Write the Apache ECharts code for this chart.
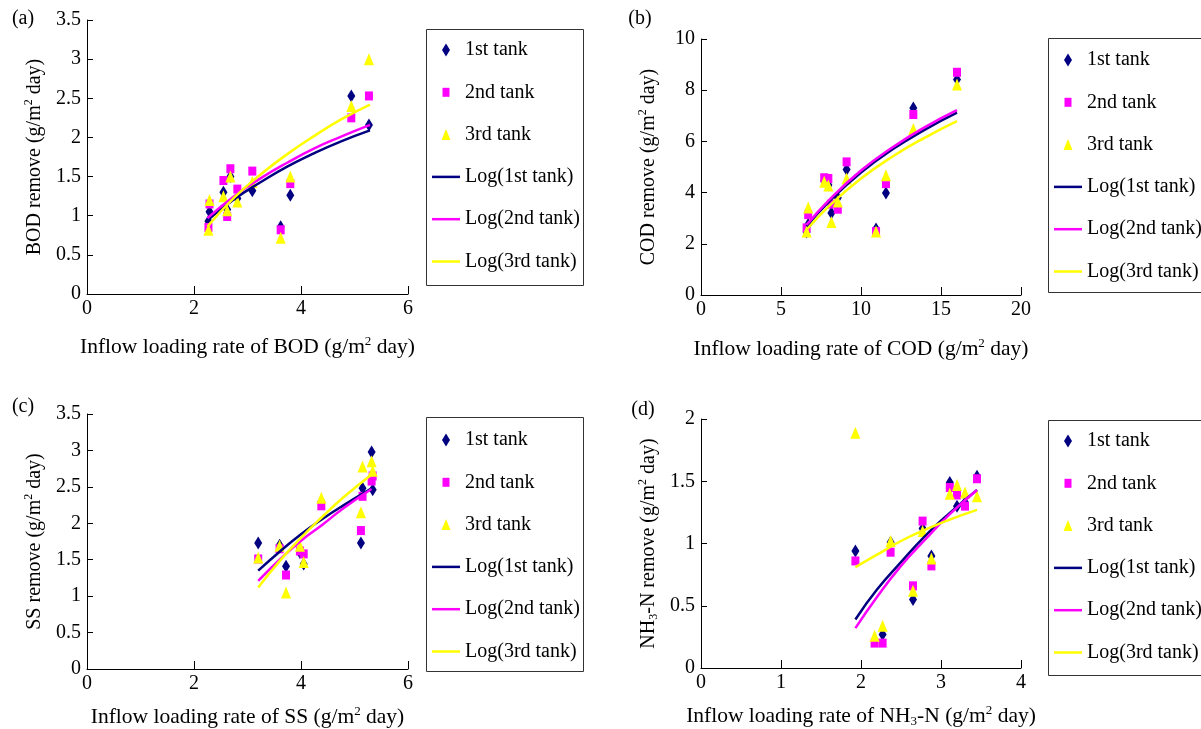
<!DOCTYPE html>
<html>
<head>
<meta charset="utf-8">
<script src="https://cdn.jsdelivr.net/npm/echarts@6/dist/echarts.min.js"></script>
<style>html,body{margin:0;padding:0;background:#fff;}#c{width:1201px;height:729px;}</style>
</head>
<body>
<div id="c"></div>
<script>
// ---------- Data ----------
// (a) BOD
const bodX   = [2.27, 2.29, 2.55, 2.62, 2.68, 2.81, 3.09, 3.62, 3.80, 4.94, 5.27];
const bod1   = [0.93, 1.05, 1.30, 1.08, 1.50, 1.22, 1.32, 0.86, 1.26, 2.53, 2.16];
const bod2   = [0.85, 1.15, 1.45, 0.99, 1.60, 1.34, 1.57, 0.82, 1.41, 2.25, 2.53];
const bod3   = [0.82, 1.20, 1.25, 1.07, 1.50, 1.18, 1.43, 0.72, 1.50, 2.40, 3.00];
const bodFitX = [2.25, 2.75, 3.25, 3.75, 4.25, 4.75, 5.29];
const bodFit1 = [0.94, 1.21, 1.43, 1.63, 1.80, 1.95, 2.09];
const bodFit2 = [0.97, 1.25, 1.48, 1.68, 1.86, 2.01, 2.16];
const bodFit3 = [0.86, 1.23, 1.53, 1.79, 2.02, 2.23, 2.42];
// (b) COD
const codX   = [6.6, 6.7, 7.7, 7.96, 8.15, 8.55, 9.1, 10.94, 11.56, 13.27, 16.0];
const cod1   = [2.46, 2.75, 4.45, 4.30, 3.20, 3.80, 4.90, 2.58, 3.98, 7.30, 8.42];
const cod2   = [2.62, 3.14, 4.58, 4.55, 3.55, 3.35, 5.20, 2.48, 4.35, 7.05, 8.70];
const cod3   = [2.48, 3.42, 4.42, 4.28, 2.85, 3.65, 4.55, 2.48, 4.68, 6.48, 8.22];
const codFitX = [6.6, 8, 10, 12, 14, 16];
const codFit1 = [2.68, 3.65, 4.78, 5.70, 6.46, 7.12];
const codFit2 = [2.74, 3.71, 4.86, 5.78, 6.56, 7.22];
const codFit3 = [2.55, 3.47, 4.55, 5.42, 6.15, 6.79];
// (c) SS
const ssX    = [3.20, 3.60, 3.72, 3.98, 4.05, 4.38, 5.12, 5.15, 5.32, 5.34];
const ss1    = [1.73, 1.70, 1.41, 1.60, 1.44, 2.30, 1.73, 2.48, 2.98, 2.46];
const ss2    = [1.51, 1.65, 1.29, 1.62, 1.58, 2.24, 1.90, 2.37, 2.58, 2.65];
const ss3    = [1.53, 1.69, 1.05, 1.69, 1.47, 2.35, 2.15, 2.78, 2.85, 2.72];
const ssFitX = [3.2, 3.6, 4.0, 4.4, 4.8, 5.32];
const ssFit1 = [1.35, 1.61, 1.85, 2.06, 2.25, 2.48];
const ssFit2 = [1.21, 1.50, 1.76, 1.98, 2.21, 2.47];
const ssFit3 = [1.12, 1.48, 1.80, 2.09, 2.36, 2.67];
// (d) NH3-N
const nhX    = [1.93, 2.17, 2.27, 2.37, 2.65, 2.77, 2.88, 3.11, 3.20, 3.30, 3.45];
const nh1    = [0.94, 0.22, 0.27, 1.01, 0.55, 1.12, 0.90, 1.49, 1.30, 1.33, 1.54];
const nh2    = [0.86, 0.20, 0.20, 0.93, 0.66, 1.18, 0.82, 1.45, 1.39, 1.30, 1.52];
const nh3    = [1.89, 0.26, 0.34, 1.02, 0.62, 1.10, 0.88, 1.40, 1.47, 1.41, 1.38];
const nhFitX = [1.93, 2.2, 2.5, 2.8, 3.1, 3.45];
const nhFit1 = [0.39, 0.63, 0.85, 1.06, 1.24, 1.43];
const nhFit2 = [0.32, 0.57, 0.82, 1.03, 1.23, 1.43];
const nhFit3 = [0.81, 0.91, 1.02, 1.11, 1.19, 1.27];

const seriesNames = ['1st tank', '2nd tank', '3rd tank', 'Log(1st tank)', 'Log(2nd tank)', 'Log(3rd tank)'];
const xTitles = ['BOD', 'COD', 'SS', 'NH{sub|3}-N'];
const yTitles = ['BOD', 'COD', 'SS', 'NH{sub|3}-N'];
const panelLabels = ['(a)', '(b)', '(c)', '(d)'];

// ---------- Styling / layout ----------
const FONT = 'Liberation Serif';
const NAVY = '#000080', MAG = '#FF00FF', YEL = '#FFFF00';
const grids = [
  {left: 87,  top: 20,  width: 321, height: 274},
  {left: 701, top: 39,  width: 320, height: 256},
  {left: 87,  top: 414, width: 321, height: 258},
  {left: 701, top: 419, width: 320, height: 253}
];
const xRanges = [[0, 6, 2], [0, 20, 5], [0, 6, 2], [0, 4, 1]];
const yRanges = [[0, 3.5, 0.5], [0, 10, 2], [0, 3.5, 0.5], [0, 2, 0.5]];
const xNameGaps = [41, 42, 36, 36];
const legendPos = [
  {left: 432, top: 40, box: [426, 29, 157, 256]},
  {left: 1054, top: 50, box: [1048, 38, 160, 254]},
  {left: 432, top: 430, box: [426, 417, 157, 254]},
  {left: 1054, top: 431, box: [1048, 420, 160, 255]}
];
const panelLabelPos = [[23, 19], [640, 19], [23, 407], [643, 410]];

const richX = {
  a: {fontFamily: FONT, fontSize: 21.5, color: '#000', lineHeight: 24},
  sup: {fontFamily: FONT, fontSize: 13, color: '#000', lineHeight: 14, verticalAlign: 'top'},
  sub: {fontFamily: FONT, fontSize: 13, color: '#000', lineHeight: 14, verticalAlign: 'bottom'}
};
const richY = {
  a: {fontFamily: FONT, fontSize: 20, color: '#000', lineHeight: 23},
  sup: {fontFamily: FONT, fontSize: 12, color: '#000', lineHeight: 13, verticalAlign: 'top'},
  sub: {fontFamily: FONT, fontSize: 12, color: '#000', lineHeight: 13, verticalAlign: 'bottom'}
};
function titleText(s) {
  const parts = s.split(/(\{su[bp]\|[^}]*\})/);
  return parts.filter(p => p.length).map(p => p.startsWith('{') ? p : '{a|' + p + '}').join('');
}

const diamondIcon = 'path://M0,0M28,14M14,0.5L18,7L14,13.5L10,7Z';
const rectIcon = 'path://M0,0M28,14M10.5,2.5H17.5V11.5H10.5Z';
const triIcon = 'path://M0,0M28,14M14,1.5L18.5,12.5L9.5,12.5Z';
const lineIcon = 'path://M0,0M28,14M0,5.75H28V8.25H0Z';

const pairs = (xs, ys) => xs.map((x, i) => [x, ys[i]]);
const panels = [
  [bodX, [bod1, bod2, bod3], bodFitX, [bodFit1, bodFit2, bodFit3]],
  [codX, [cod1, cod2, cod3], codFitX, [codFit1, codFit2, codFit3]],
  [ssX, [ss1, ss2, ss3], ssFitX, [ssFit1, ssFit2, ssFit3]],
  [nhX, [nh1, nh2, nh3], nhFitX, [nhFit1, nhFit2, nhFit3]]
];

const colors = [NAVY, MAG, YEL];
const symbols = ['diamond', 'rect', 'triangle'];
const symbolSizes = [[8, 13], [8, 9], [10, 12]];

const xAxes = [], yAxes = [], series = [], legends = [], graphics = [];
grids.forEach((g, k) => {
  xAxes.push({
    type: 'value', gridIndex: k, min: xRanges[k][0], max: xRanges[k][1], interval: xRanges[k][2],
    name: titleText('Inflow loading rate of ' + xTitles[k] + ' (g/m{sup|2} day)'),
    nameLocation: 'middle', nameGap: xNameGaps[k], nameTextStyle: {rich: richX},
    axisLine: {lineStyle: {color: '#000', width: 1}},
    axisTick: {inside: true, length: 8, lineStyle: {color: '#000'}},
    axisLabel: {fontFamily: FONT, fontSize: 20, color: '#000', margin: 5},
    splitLine: {show: false}
  });
  yAxes.push({
    type: 'value', gridIndex: k, min: yRanges[k][0], max: yRanges[k][1], interval: yRanges[k][2],
    name: titleText(yTitles[k] + ' remove (g/m{sup|2} day)'),
    nameLocation: 'middle', nameGap: 41, nameTextStyle: {rich: richY},
    axisLine: {show: true, lineStyle: {color: '#000', width: 1}},
    axisTick: {show: true, inside: true, length: 6, lineStyle: {color: '#000'}},
    axisLabel: {fontFamily: FONT, fontSize: 20, color: '#000', margin: 6},
    splitLine: {show: false}
  });
  const [xs, ys, fx, fys] = panels[k];
  for (let s = 0; s < 3; s++) {
    series.push({
      type: 'scatter', name: seriesNames[s], xAxisIndex: k, yAxisIndex: k,
      symbol: symbols[s], symbolSize: symbolSizes[s], z: 2 + s * 0.1,
      itemStyle: {color: colors[s], opacity: 1},
      data: pairs(xs, ys[s])
    });
  }
  for (let s = 0; s < 3; s++) {
    series.push({
      type: 'line', name: seriesNames[3 + s], xAxisIndex: k, yAxisIndex: k,
      symbol: 'none', smooth: true, z: 3,
      lineStyle: {color: colors[s], width: 2.5},
      itemStyle: {color: colors[s]},
      data: pairs(fx, fys[s])
    });
  }
  const lp = legendPos[k];
  legends.push({
    orient: 'vertical', left: lp.left, top: lp.top, padding: 0,
    itemWidth: 28, itemHeight: 14, itemGap: 22.3,
    textStyle: {fontFamily: FONT, fontSize: 20, color: '#000'},
    data: [
      {name: seriesNames[0], icon: diamondIcon},
      {name: seriesNames[1], icon: rectIcon},
      {name: seriesNames[2], icon: triIcon},
      {name: seriesNames[3], icon: lineIcon},
      {name: seriesNames[4], icon: lineIcon},
      {name: seriesNames[5], icon: lineIcon}
    ]
  });
  graphics.push({
    type: 'rect', silent: true, z: -1,
    shape: {x: lp.box[0] + 0.5, y: lp.box[1] + 0.5, width: lp.box[2], height: lp.box[3]},
    style: {fill: '#fff', stroke: '#333', lineWidth: 1}
  });
  graphics.push({
    type: 'text', x: panelLabelPos[k][0], y: panelLabelPos[k][1],
    style: {text: panelLabels[k], font: '20px "Liberation Serif"', fill: '#000', align: 'center', verticalAlign: 'middle'}
  });
});

const chart = echarts.init(document.getElementById('c'), null, {renderer: 'canvas'});
chart.setOption({
  animation: false,
  backgroundColor: '#fff',
  grid: grids.map(g => Object.assign({containLabel: false}, g)),
  xAxis: xAxes,
  yAxis: yAxes,
  legend: legends,
  graphic: graphics,
  series: series
});
</script>
</body>
</html>
